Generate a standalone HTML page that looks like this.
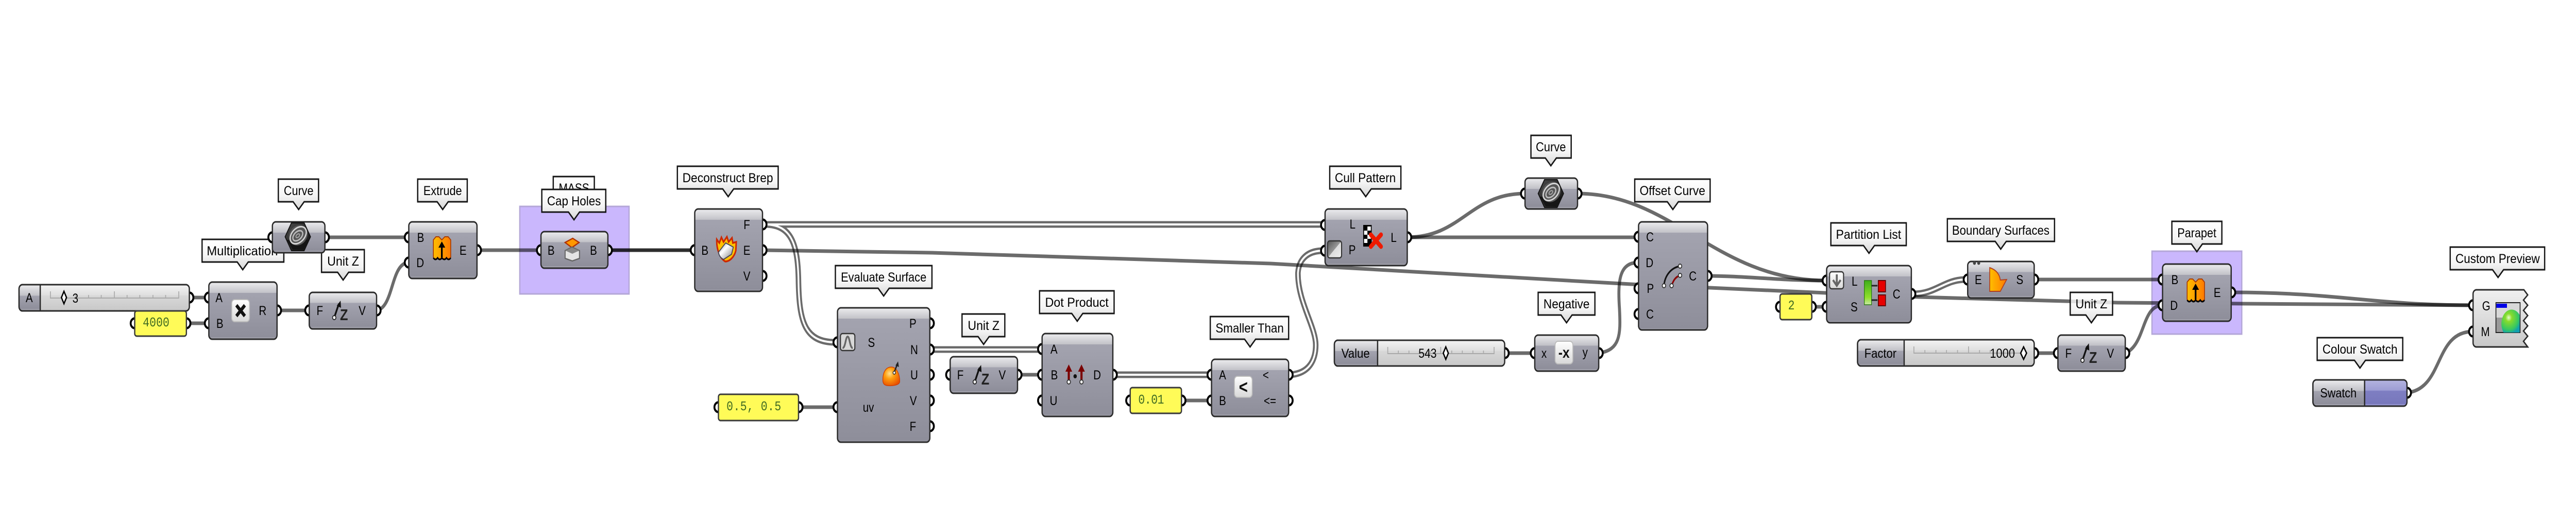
<!DOCTYPE html>
<html><head><meta charset="utf-8">
<style>
html,body{margin:0;padding:0;background:#fff;width:100%;height:100%;overflow:hidden}
svg{display:block;width:100vw;height:100vh}
text{font-family:"Liberation Sans",sans-serif;font-size:25px;fill:#000;text-anchor:middle}
.m{font-family:"Liberation Mono",monospace;fill:#3f6a22;font-size:26px;text-anchor:start}
.w{fill:none;stroke:#000;stroke-opacity:.58;stroke-width:7}
.d1{fill:none;stroke:#6b6b6b;stroke-width:13}
.d2{fill:none;stroke:#fff;stroke-width:4}
.tp{fill:url(#tip);stroke:#151515;stroke-width:3}
.p{fill:#fff;stroke:#000;stroke-width:4.5}
.c{stroke:#2a2a2a;stroke-width:3}
.pn{fill:#fffb58;stroke:#3a3a3a;stroke-width:3}
.tk{fill:none;stroke:#a9a9a9;stroke-width:2}
.dm{fill:#fff;stroke:#000;stroke-width:3}
.btn{fill:url(#btn);stroke:#bbb;stroke-width:2}
.g{fill:#cab7fd;stroke:#b4a7d8;stroke-width:3}
</style></head><body>
<svg xmlns="http://www.w3.org/2000/svg" viewBox="0 0 6081 983" preserveAspectRatio="none">
<defs>
<linearGradient id="tip" x1="0" y1="0" x2="0" y2="1"><stop offset="0" stop-color="#fff"/><stop offset=".55" stop-color="#f4f4f4"/><stop offset="1" stop-color="#d6d6d6"/></linearGradient>
<linearGradient id="btn" x1="0" y1="0" x2="0" y2="1"><stop offset="0" stop-color="#fff"/><stop offset="1" stop-color="#d8d8d8"/></linearGradient>
<linearGradient id="g50" x1="0" y1="0" x2="0" y2="1"><stop offset="0" stop-color="#ececee"/><stop offset=".42" stop-color="#c0c0c6"/><stop offset=".42" stop-color="#a3a3af"/><stop offset=".92" stop-color="#8e8e9a"/><stop offset=".93" stop-color="#a2a2ac"/><stop offset="1" stop-color="#a2a2ac"/></linearGradient>
<linearGradient id="g60" x1="0" y1="0" x2="0" y2="1"><stop offset="0" stop-color="#ececee"/><stop offset=".35" stop-color="#c0c0c6"/><stop offset=".35" stop-color="#a3a3af"/><stop offset=".93" stop-color="#8e8e9a"/><stop offset=".94" stop-color="#a2a2ac"/><stop offset="1" stop-color="#a2a2ac"/></linearGradient>
<linearGradient id="g71" x1="0" y1="0" x2="0" y2="1"><stop offset="0" stop-color="#ececee"/><stop offset=".29" stop-color="#c0c0c6"/><stop offset=".29" stop-color="#a3a3af"/><stop offset=".94" stop-color="#8e8e9a"/><stop offset=".95" stop-color="#a2a2ac"/><stop offset="1" stop-color="#a2a2ac"/></linearGradient>
<linearGradient id="g110" x1="0" y1="0" x2="0" y2="1"><stop offset="0" stop-color="#ececee"/><stop offset=".19" stop-color="#c2c2c8"/><stop offset=".19" stop-color="#a3a3af"/><stop offset=".97" stop-color="#8e8e9a"/><stop offset=".97" stop-color="#a2a2ac"/><stop offset="1" stop-color="#a2a2ac"/></linearGradient>
<linearGradient id="g160" x1="0" y1="0" x2="0" y2="1"><stop offset="0" stop-color="#ececee"/><stop offset=".13" stop-color="#c2c2c8"/><stop offset=".13" stop-color="#a3a3af"/><stop offset=".98" stop-color="#8e8e9a"/><stop offset=".98" stop-color="#a2a2ac"/><stop offset="1" stop-color="#a2a2ac"/></linearGradient>
<linearGradient id="g210" x1="0" y1="0" x2="0" y2="1"><stop offset="0" stop-color="#ececee"/><stop offset=".1" stop-color="#c2c2c8"/><stop offset=".1" stop-color="#a3a3af"/><stop offset=".985" stop-color="#8e8e9a"/><stop offset=".985" stop-color="#a2a2ac"/><stop offset="1" stop-color="#a2a2ac"/></linearGradient>
<linearGradient id="g260" x1="0" y1="0" x2="0" y2="1"><stop offset="0" stop-color="#ececee"/><stop offset=".08" stop-color="#c2c2c8"/><stop offset=".08" stop-color="#a3a3af"/><stop offset=".99" stop-color="#8e8e9a"/><stop offset=".99" stop-color="#a2a2ac"/><stop offset="1" stop-color="#a2a2ac"/></linearGradient>
<linearGradient id="sl" x1="0" y1="0" x2="0" y2="1"><stop offset="0" stop-color="#f4f4f4"/><stop offset=".4" stop-color="#dfdfdf"/><stop offset=".42" stop-color="#d8d8d8"/><stop offset="1" stop-color="#c8c8c8"/></linearGradient>
<linearGradient id="cp" x1="0" y1="0" x2="0" y2="1"><stop offset="0" stop-color="#f0f0f0"/><stop offset="1" stop-color="#c8c8c8"/></linearGradient>
<linearGradient id="sw" x1="0" y1="0" x2="0" y2="1"><stop offset="0" stop-color="#b4b4e0"/><stop offset=".4" stop-color="#9d9dd4"/><stop offset=".42" stop-color="#7e7ec2"/><stop offset=".92" stop-color="#7878bc"/><stop offset=".93" stop-color="#9494d0"/></linearGradient>
<linearGradient id="or" x1="0" y1="0" x2="1" y2="0"><stop offset="0" stop-color="#ffbe00"/><stop offset="1" stop-color="#ff7a00"/></linearGradient>
<linearGradient id="hx" x1="0" y1="0" x2="1" y2="1"><stop offset="0" stop-color="#4a4a4a"/><stop offset="1" stop-color="#111"/></linearGradient>
<linearGradient id="pd" x1="0" y1="0" x2="1" y2="1"><stop offset="0" stop-color="#555"/><stop offset=".5" stop-color="#999"/><stop offset=".5" stop-color="#ddd"/><stop offset="1" stop-color="#eee"/></linearGradient>
<linearGradient id="gr" x1="0" y1="0" x2="0" y2="1"><stop offset="0" stop-color="#3fae1a"/><stop offset=".7" stop-color="#8fe02a"/><stop offset="1" stop-color="#c9e8a8"/></linearGradient>
<radialGradient id="sph" cx=".4" cy=".35" r=".7"><stop offset="0" stop-color="#e8ffd0"/><stop offset=".25" stop-color="#88dc2c"/><stop offset=".75" stop-color="#38c860"/><stop offset="1" stop-color="#10a0b0"/></radialGradient>
<radialGradient id="blob" cx=".4" cy=".35" r=".7"><stop offset="0" stop-color="#ffe090"/><stop offset=".4" stop-color="#ffa010"/><stop offset="1" stop-color="#e85000"/></radialGradient>
<linearGradient id="sil" x1="0" y1="0" x2="1" y2="1"><stop offset="0" stop-color="#888"/><stop offset=".4" stop-color="#fff"/><stop offset="1" stop-color="#777"/></linearGradient>

<g id="curveic">
<polygon points="-30,0 -15,-27 15,-27 30,0 15,27 -15,27" fill="url(#hx)" stroke="#111" stroke-width="2"/>
<path d="M-26,6 L-12,25 H13 L27,6" fill="#151515"/>
<ellipse cx="1" cy="-3" rx="23" ry="19" transform="rotate(-25 1 -3)" fill="#555"/>
<ellipse cx="1" cy="-3" rx="21" ry="14" transform="rotate(-35 1 -3)" fill="none" stroke="#d4d4d4" stroke-width="3"/>
<ellipse cx="0" cy="-2" rx="13" ry="8" transform="rotate(-35 0 -2)" fill="none" stroke="#bbb" stroke-width="3"/>
<ellipse cx="0" cy="-2" rx="5" ry="3" transform="rotate(-35 0 -2)" fill="none" stroke="#aaa" stroke-width="2"/>
</g>
<g id="extr">
<path d="M0,6 L6,0 L13,0 L20,6 L27,0 L35,0 L41,6 V40 Q36,46 31,40 Q26,46 20,40 Q15,46 10,40 Q5,46 0,40Z" fill="url(#or)" stroke="#a83a00" stroke-width="2"/>
<path d="M0,41 Q5,47 10,41 Q15,47 20,41 Q26,47 31,41 Q36,47 41,41" fill="none" stroke="#000" stroke-width="3"/>
<path d="M20,40 V18" stroke="#000" stroke-width="4"/>
<path d="M20,9 L28,21 H12Z" fill="#000"/>
</g>
<g id="arrowz">
<path d="M0,0 L11,-27" stroke="#111" stroke-width="4"/>
<path d="M15,-33 L16,-19 L6,-23Z" fill="#111"/>
<circle cx="0" cy="0" r="4" fill="#fff" stroke="#222" stroke-width="2"/>
</g>
</defs>

<rect width="6081" height="983" fill="#fff"/>

<!-- groups -->
<rect class="g" x="1227" y="401" width="258" height="170"/>
<rect class="g" x="5080" y="488" width="212" height="161"/>

<!-- double wires -->
<g>
<path class="d1" d="M1806,436H3122"/>
<path class="d1" d="M1806,436C1872,436 1884,480 1885,550C1887,625 1900,665 1972,665"/>
<path class="d1" d="M2200,679H2455"/>
<path class="d1" d="M2632,728H2855"/>
<path class="d1" d="M3047,728C3090,725 3106,700 3106,670C3106,635 3063,585 3064,530C3066,505 3085,487 3123,487"/>
<path class="d1" d="M4517,571C4570,571 4590,543 4640,543"/>
<path class="d2" d="M1806,436H3122"/>
<path class="d2" d="M1806,436C1872,436 1884,480 1885,550C1887,625 1900,665 1972,665"/>
<path class="d2" d="M2200,679H2455"/>
<path class="d2" d="M2632,728H2855"/>
<path class="d2" d="M3047,728C3090,725 3106,700 3106,670C3106,635 3063,585 3064,530C3066,505 3085,487 3123,487"/>
<path class="d2" d="M4517,571C4570,571 4590,543 4640,543"/>
</g>

<!-- single wires -->
<g>
<path class="w" d="M767,461H965"/>
<path class="w" d="M447,578H493"/>
<path class="w" d="M440,628H493"/>
<path class="w" d="M654,603H730"/>
<path class="w" d="M889,603C930,598 922,510 965,510"/>
<path class="w" d="M1126,486H1277"/>
<path class="w" d="M1435,486H1640"/>
<path class="w" d="M1435,486H1640"/>
<path class="w" stroke-linejoin="round" d="M1800,486L2200,491L3000,512L3870,553L4530,577L5000,588L5300,590L5838,593"/>
<path class="w" d="M1885,791H1977"/>
<path class="w" d="M2402,728H2460"/>
<path class="w" d="M2789,778H2860"/>
<path class="w" d="M3322,461C3450,461 3470,376 3600,376"/>
<path class="w" d="M3322,461H3868"/>
<path class="w" d="M3724,376C3950,376 4050,545 4312,545"/>
<path class="w" d="M4031,536C4120,536 4200,545 4312,545"/>
<path class="w" d="M3552,686H3623"/>
<path class="w" d="M3774,686C3825,680 3826,650 3823,600C3818,540 3825,510 3868,510"/>
<path class="w" d="M4277,596H4312"/>
<path class="w" d="M4802,543H5105"/>
<path class="w" d="M4802,686H4858"/>
<path class="w" d="M5017,686C5065,670 5055,593 5105,593"/>
<path class="w" d="M5267,568C5520,568 5600,593 5838,593"/>
<path class="w" d="M5682,763C5770,755 5745,644 5838,644"/>
</g>

<!-- tooltips -->
<g>
<path class="tp" d="M657 348H752V392H718L705 407L692 392H657Z"/><text x="705" y="379" textLength="70" lengthAdjust="spacingAndGlyphs">Curve</text>
<path class="tp" d="M986 348H1103V392H1058L1045 407L1032 392H986Z"/><text x="1045" y="379" textLength="91" lengthAdjust="spacingAndGlyphs">Extrude</text>
<path class="tp" d="M477 465H670V509H586L573 524L560 509H477Z"/><text x="572" y="496" textLength="168" lengthAdjust="spacingAndGlyphs">Multiplication</text>
<path class="tp" d="M759 485H860V529H823L810 544L797 529H759Z"/><text x="810" y="516" textLength="75" lengthAdjust="spacingAndGlyphs">Unit Z</text>
<path class="tp" d="M1306 343H1403V387H1368L1355 402L1342 387H1306Z"/><text x="1355" y="374" textLength="72" lengthAdjust="spacingAndGlyphs">MASS</text>
<path class="tp" d="M1279 368H1430V412H1368L1355 427L1342 412H1279Z"/><text x="1355" y="399" textLength="127" lengthAdjust="spacingAndGlyphs">Cap Holes</text>
<path class="tp" d="M1599 323H1837V367H1732L1719 382L1706 367H1599Z"/><text x="1718" y="354" textLength="214" lengthAdjust="spacingAndGlyphs">Deconstruct Brep</text>
<path class="tp" d="M1972 516H2200V560H2099L2086 575L2073 560H1972Z"/><text x="2086" y="547" textLength="202" lengthAdjust="spacingAndGlyphs">Evaluate Surface</text>
<path class="tp" d="M2271 610H2372V654H2335L2322 669L2309 654H2271Z"/><text x="2322" y="641" textLength="75" lengthAdjust="spacingAndGlyphs">Unit Z</text>
<path class="tp" d="M2454 565H2630V609H2556L2543 624L2530 609H2454Z"/><text x="2542" y="596" textLength="150" lengthAdjust="spacingAndGlyphs">Dot Product</text>
<path class="tp" d="M2857 615H3042V659H2964L2951 674L2938 659H2857Z"/><text x="2950" y="646" textLength="161" lengthAdjust="spacingAndGlyphs">Smaller Than</text>
<path class="tp" d="M3139 323H3307V367H3237L3224 382L3211 367H3139Z"/><text x="3223" y="354" textLength="144" lengthAdjust="spacingAndGlyphs">Cull Pattern</text>
<path class="tp" d="M3614 263H3709V307H3674L3661 322L3648 307H3614Z"/><text x="3661" y="294" textLength="71" lengthAdjust="spacingAndGlyphs">Curve</text>
<path class="tp" d="M3859 348H4037V392H3962L3949 407L3936 392H3859Z"/><text x="3948" y="379" textLength="155" lengthAdjust="spacingAndGlyphs">Offset Curve</text>
<path class="tp" d="M3631 568H3765V612H3711L3698 627L3685 612H3631Z"/><text x="3698" y="599" textLength="109" lengthAdjust="spacingAndGlyphs">Negative</text>
<path class="tp" d="M4322 433H4500V477H4425L4412 492L4399 477H4322Z"/><text x="4411" y="464" textLength="154" lengthAdjust="spacingAndGlyphs">Partition List</text>
<path class="tp" d="M4597 425H4850V469H4736L4723 484L4710 469H4597Z"/><text x="4723" y="456" textLength="230" lengthAdjust="spacingAndGlyphs">Boundary Surfaces</text>
<path class="tp" d="M4887 568H4987V612H4950L4937 627L4924 612H4887Z" style="fill-opacity:.82"/><text x="4937" y="599" textLength="75" lengthAdjust="spacingAndGlyphs">Unit Z</text>
<path class="tp" d="M5127 430H5245V474H5199L5186 489L5173 474H5127Z"/><text x="5186" y="461" textLength="92" lengthAdjust="spacingAndGlyphs">Parapet</text>
<path class="tp" d="M5784 480H6007V524H5910L5897 539L5884 524H5784Z"/><text x="5896" y="511" textLength="199" lengthAdjust="spacingAndGlyphs">Custom Preview</text>
<path class="tp" d="M5470 656H5672V700H5584L5571 715L5558 700H5470Z"/><text x="5571" y="687" textLength="177" lengthAdjust="spacingAndGlyphs">Colour Swatch</text>
</g>

<!-- ports -->
<g>
<circle class="p" cx="643" cy="461" r="9.5"/><circle class="p" cx="767" cy="461" r="9.5"/>
<circle class="p" cx="965" cy="461" r="9.5"/><circle class="p" cx="965" cy="510" r="9.5"/><circle class="p" cx="1126" cy="486" r="9.5"/>
<circle class="p" cx="447" cy="578" r="9.5"/><circle class="p" cx="318" cy="628" r="9.5"/><circle class="p" cx="440" cy="628" r="9.5"/>
<circle class="p" cx="493" cy="578" r="9.5"/><circle class="p" cx="493" cy="628" r="9.5"/><circle class="p" cx="654" cy="603" r="9.5"/>
<circle class="p" cx="730" cy="603" r="9.5"/><circle class="p" cx="889" cy="603" r="9.5"/>
<circle class="p" cx="1277" cy="486" r="9.5"/><circle class="p" cx="1435" cy="486" r="9.5"/>
<circle class="p" cx="1640" cy="486" r="9.5"/><circle class="p" cx="1800" cy="436" r="9.5"/><circle class="p" cx="1800" cy="486" r="9.5"/><circle class="p" cx="1800" cy="536" r="9.5"/>
<circle class="p" cx="1977" cy="665" r="9.5"/><circle class="p" cx="1977" cy="791" r="9.5"/>
<circle class="p" cx="2195" cy="628" r="9.5"/><circle class="p" cx="2195" cy="679" r="9.5"/><circle class="p" cx="2195" cy="728" r="9.5"/><circle class="p" cx="2195" cy="778" r="9.5"/><circle class="p" cx="2195" cy="828" r="9.5"/>
<circle class="p" cx="1696" cy="791" r="9.5"/><circle class="p" cx="1885" cy="791" r="9.5"/>
<circle class="p" cx="2243" cy="728" r="9.5"/><circle class="p" cx="2402" cy="728" r="9.5"/>
<circle class="p" cx="2460" cy="678" r="9.5"/><circle class="p" cx="2460" cy="728" r="9.5"/><circle class="p" cx="2460" cy="778" r="9.5"/><circle class="p" cx="2627" cy="728" r="9.5"/>
<circle class="p" cx="2668" cy="778" r="9.5"/><circle class="p" cx="2789" cy="778" r="9.5"/>
<circle class="p" cx="2860" cy="728" r="9.5"/><circle class="p" cx="2860" cy="778" r="9.5"/><circle class="p" cx="3042" cy="728" r="9.5"/><circle class="p" cx="3042" cy="778" r="9.5"/>
<circle class="p" cx="3128" cy="437" r="9.5"/><circle class="p" cx="3128" cy="487" r="9.5"/><circle class="p" cx="3322" cy="461" r="9.5"/>
<circle class="p" cx="3600" cy="376" r="9.5"/><circle class="p" cx="3724" cy="376" r="9.5"/>
<circle class="p" cx="3868" cy="460" r="9.5"/><circle class="p" cx="3868" cy="510" r="9.5"/><circle class="p" cx="3868" cy="560" r="9.5"/><circle class="p" cx="3868" cy="610" r="9.5"/><circle class="p" cx="4031" cy="536" r="9.5"/>
<circle class="p" cx="3552" cy="686" r="9.5"/><circle class="p" cx="3623" cy="686" r="9.5"/><circle class="p" cx="3774" cy="686" r="9.5"/>
<circle class="p" cx="4312" cy="545" r="9.5"/><circle class="p" cx="4312" cy="596" r="9.5"/><circle class="p" cx="4512" cy="571" r="9.5"/>
<circle class="p" cx="4202" cy="596" r="9.5"/><circle class="p" cx="4277" cy="596" r="9.5"/>
<circle class="p" cx="4645" cy="543" r="9.5"/><circle class="p" cx="4802" cy="543" r="9.5"/>
<circle class="p" cx="4802" cy="686" r="9.5"/><circle class="p" cx="4858" cy="686" r="9.5"/><circle class="p" cx="5017" cy="686" r="9.5"/>
<circle class="p" cx="5105" cy="543" r="9.5"/><circle class="p" cx="5105" cy="593" r="9.5"/><circle class="p" cx="5267" cy="568" r="9.5"/>
<circle class="p" cx="5838" cy="593" r="9.5"/><circle class="p" cx="5838" cy="644" r="9.5"/><circle class="p" cx="5682" cy="763" r="9.5"/>
</g>

<!-- Curve 1 -->
<rect class="c" x="643" y="431" width="124" height="60" rx="8" fill="url(#g60)"/><use href="#curveic" x="703" y="460"/>
<!-- Extrude -->
<rect class="c" x="965" y="431" width="161" height="110" rx="8" fill="url(#g110)"/>
<use href="#extr" x="1023" y="460"/>
<text x="993" y="470">B</text><text x="992" y="519">D</text><text x="1093" y="495">E</text>
<!-- Slider A -->
<rect class="c" x="45" y="553" width="402" height="51" rx="8" fill="url(#sl)"/>
<path class="c" d="M95,553H53a8,8 0 0 0 -8,8V596a8,8 0 0 0 8,8H95Z" fill="url(#g50)"/>
<text x="69" y="587">A</text>
<path class="tk" d="M119 566V579H422V566M149 573V579M179 573V579M209 573V579M239 573V579M270 566V579M300 573V579M330 573V579M361 573V579M391 573V579"/>
<polygon class="dm" points="151,566 157,578 151,590 145,578"/>
<text x="178" y="588">3</text>
<!-- Panel 4000 -->
<rect class="pn" x="318" y="604" width="122" height="49" rx="5"/><text class="m" x="337" y="634" textLength="63">4000</text>
<!-- Multiplication -->
<rect class="c" x="493" y="548" width="161" height="111" rx="8" fill="url(#g110)"/>
<text x="517" y="587">A</text><text x="519" y="637">B</text><text x="620" y="612">R</text>
<rect class="btn" x="547" y="582" width="42" height="43" rx="7"/>
<path d="M558,593 L578,614 M578,593 L558,614" stroke="#111" stroke-width="7"/>
<!-- Unit Z 1 -->
<rect class="c" x="730" y="568" width="159" height="71" rx="8" fill="url(#g71)"/>
<text x="755" y="612">F</text><text x="855" y="612">V</text>
<use href="#arrowz" x="789" y="617"/><text x="812" y="622" style="font-size:31px;font-weight:bold;fill:#222">Z</text>
<!-- Cap Holes -->
<rect class="c" x="1277" y="450" width="158" height="71" rx="8" fill="url(#g71)"/>
<text x="1301" y="495">B</text><text x="1401" y="495">B</text>
<path d="M1334,471 L1352,463 L1367,471 L1350,481Z" fill="#ff9800" stroke="#b03000" stroke-width="2.5"/>
<path d="M1334,487 L1350,480 L1368,487 V502 L1351,507 L1334,502Z" fill="#e4e4e4" stroke="#666" stroke-width="2.5"/>
<path d="M1335,487 L1351,493 L1367,487 L1350,481Z" fill="#888"/>
<!-- Deconstruct Brep -->
<rect class="c" x="1640" y="406" width="160" height="160" rx="8" fill="url(#g160)"/>
<text x="1664" y="495">B</text><text x="1763" y="445">F</text><text x="1763" y="495">E</text><text x="1763" y="545">V</text>
<path d="M1692,465 L1698,472 L1703,461 L1708,470 L1716,460 L1720,470 L1728,462 L1730,472 L1738,470 L1737,487 C1733,500 1722,508 1712,508 C1700,502 1691,485 1692,465Z" fill="#ffc000" stroke="#cc2800" stroke-width="3.5"/>
<path d="M1696,490 L1713,472 L1731,480 L1727,494 L1708,504 Q1698,500 1696,490Z" fill="url(#sil)" stroke="#445" stroke-width="2"/>
<!-- Evaluate Surface -->
<rect class="c" x="1977" y="598" width="218" height="261" rx="8" fill="url(#g260)"/>
<rect x="1984" y="648" width="34" height="33" rx="5" fill="#d8d8d8" stroke="#333" stroke-width="2.5"/>
<path d="M1989,676 C1996,676 1996,654 2001,654 C2006,654 2006,676 2013,676" fill="none" stroke="#666" stroke-width="4"/>
<text x="2057" y="674">S</text><text x="2050" y="800">uv</text>
<text x="2155" y="637">P</text><text x="2158" y="688">N</text><text x="2158" y="737">U</text><text x="2156" y="787">V</text><text x="2155" y="837">F</text>
<path d="M2084,738 C2084,722 2092,713 2104,713 C2116,713 2124,726 2124,741 C2124,749 2104,750 2094,749 C2087,748 2084,745 2084,738Z" fill="url(#blob)" stroke="#d04000" stroke-width="1.5"/>
<path d="M2111,723 L2118,708" stroke="#222" stroke-width="3"/><path d="M2120,702 L2122,713 L2114,710Z" fill="#222"/>
<circle cx="2111" cy="724" r="3" fill="#fff" stroke="#222" stroke-width="1.5"/>
<!-- Panel 0.5 -->
<rect class="pn" x="1696" y="766" width="189" height="51" rx="5"/><text class="m" x="1715" y="797" textLength="129">0.5, 0.5</text>
<!-- Unit Z 2 -->
<rect class="c" x="2243" y="693" width="159" height="71" rx="8" fill="url(#g71)"/>
<text x="2267" y="737">F</text><text x="2366" y="737">V</text>
<use href="#arrowz" x="2301" y="742"/><text x="2326" y="747" style="font-size:31px;font-weight:bold;fill:#222">Z</text>
<!-- Dot Product -->
<rect class="c" x="2460" y="648" width="167" height="161" rx="8" fill="url(#g160)"/>
<text x="2488" y="687">A</text><text x="2489" y="737">B</text><text x="2487" y="787">U</text><text x="2590" y="737">D</text>
<path d="M2523,742 V716" stroke="#7a0000" stroke-width="5"/><path d="M2523,708 L2531,722 H2515Z" fill="#7a0000"/><circle cx="2523" cy="742" r="4" fill="#fff" stroke="#333" stroke-width="2"/>
<path d="M2553,742 V716" stroke="#7a0000" stroke-width="5"/><path d="M2553,708 L2561,722 H2545Z" fill="#7a0000"/><circle cx="2553" cy="742" r="4" fill="#fff" stroke="#333" stroke-width="2"/>
<circle cx="2538" cy="731" r="4" fill="#111"/>
<!-- Panel 0.01 -->
<rect class="pn" x="2668" y="753" width="121" height="50" rx="5"/><text class="m" x="2687" y="784" textLength="61">0.01</text>
<!-- Smaller -->
<rect class="c" x="2860" y="698" width="182" height="111" rx="8" fill="url(#g110)"/>
<text x="2886" y="737">A</text><text x="2886" y="787">B</text><text x="2988" y="737">&lt;</text><text x="2998" y="787">&lt;=</text>
<rect class="btn" x="2914" y="731" width="42" height="41" rx="7"/>
<text x="2935" y="764" style="font-size:36px;font-weight:bold;fill:#111">&lt;</text>
<!-- Cull Pattern -->
<rect class="c" x="3128" y="406" width="194" height="110" rx="8" fill="url(#g110)"/>
<rect x="3134" y="468" width="33" height="33" rx="5" fill="url(#pd)" stroke="#333" stroke-width="2.5"/>
<text x="3193" y="444">L</text><text x="3192" y="494">P</text><text x="3290" y="470">L</text>
<rect x="3218" y="437" width="20" height="42" fill="#000"/>
<path d="M3228,440h8v8h-8zM3220,448h8v8h-8zM3228,456h8v8h-8zM3220,464h8v8h-8z" fill="#fff"/>
<path d="M3236,456 L3260,479 M3260,456 L3236,479" stroke="#ee1a00" stroke-width="9" stroke-linecap="round"/>
<!-- Curve 2 -->
<rect class="c" x="3600" y="346" width="124" height="60" rx="8" fill="url(#g60)"/><use href="#curveic" x="3661" y="376"/>
<!-- Offset Curve -->
<rect class="c" x="3868" y="431" width="163" height="210" rx="8" fill="url(#g210)"/>
<text x="3895" y="469">C</text><text x="3894" y="519">D</text><text x="3896" y="569">P</text><text x="3895" y="619">C</text><text x="3996" y="545">C</text>
<path d="M3928,555 C3930,535 3945,520 3966,517" fill="none" stroke="#111" stroke-width="3.5"/>
<path d="M3946,555 C3950,545 3955,538 3966,535" fill="none" stroke="#8a0000" stroke-width="3.5"/>
<circle cx="3928" cy="555" r="4" fill="#fff" stroke="#333" stroke-width="2"/><circle cx="3966" cy="517" r="4" fill="#fff" stroke="#333" stroke-width="2"/><circle cx="3946" cy="555" r="4" fill="#fff" stroke="#333" stroke-width="2"/><circle cx="3966" cy="535" r="4" fill="#fff" stroke="#333" stroke-width="2"/>
<!-- Value slider -->
<rect class="c" x="3150" y="661" width="402" height="50" rx="8" fill="url(#sl)"/>
<path class="c" d="M3252,661H3158a8,8 0 0 0 -8,8V703a8,8 0 0 0 8,8H3252Z" fill="url(#g50)"/>
<text x="3200" y="695" textLength="67" lengthAdjust="spacingAndGlyphs">Value</text>
<path class="tk" d="M3276 674V687H3527V674M3301 681V687M3326 681V687M3351 681V687M3376 681V687M3401 674V687M3427 681V687M3452 681V687M3477 681V687M3502 681V687"/>
<text x="3370" y="695" textLength="43" lengthAdjust="spacingAndGlyphs">543</text>
<polygon class="dm" points="3413,674 3419,686 3413,698 3407,686"/>
<!-- Negative -->
<rect class="c" x="3623" y="651" width="151" height="70" rx="8" fill="url(#g71)"/>
<text x="3645" y="695">x</text><text x="3742" y="693">y</text>
<rect class="btn" x="3671" y="663" width="42" height="44" rx="7"/>
<text x="3692" y="695" style="font-size:30px;font-weight:bold;fill:#111">-x</text>
<!-- Partition List -->
<rect class="c" x="4312" y="516" width="200" height="111" rx="8" fill="url(#g110)"/>
<rect x="4319" y="528" width="33" height="33" rx="5" fill="url(#btn)" stroke="#333" stroke-width="2.5"/>
<path d="M4336,533 V553 M4327,544 L4336,555 L4345,544" fill="none" stroke="#666" stroke-width="4.5"/>
<text x="4378" y="555">L</text><text x="4377" y="605">S</text><text x="4477" y="580">C</text>
<rect x="4401" y="545" width="17" height="47" fill="url(#gr)" stroke="#2a7a10" stroke-width="1.5"/>
<path d="M4418,555H4432M4418,583H4432" stroke="#222" stroke-width="3"/>
<rect x="4434" y="545" width="17" height="22" fill="#e60000" stroke="#600" stroke-width="2"/>
<rect x="4434" y="573" width="17" height="21" fill="#e60000" stroke="#600" stroke-width="2"/>
<!-- Panel 2 -->
<rect class="pn" x="4202" y="571" width="75" height="50" rx="5"/><text class="m" x="4221" y="601">2</text>
<!-- Boundary -->
<rect class="c" x="4645" y="508" width="157" height="71" rx="8" fill="url(#g71)"/>
<circle cx="4661" cy="511" r="3.5" fill="#444"/><circle cx="4671" cy="511" r="3.5" fill="#444"/>
<text x="4670" y="552">E</text><text x="4768" y="552">S</text>
<path d="M4697,520 C4712,524 4720,532 4722,544 L4737,543 L4722,566 H4697Z" fill="url(#or)" stroke="#b04020" stroke-width="2"/>
<!-- Factor slider -->
<rect class="c" x="4385" y="660" width="417" height="51" rx="8" fill="url(#sl)"/>
<path class="c" d="M4495,660H4393a8,8 0 0 0 -8,8V703a8,8 0 0 0 8,8H4495Z" fill="url(#g50)"/>
<text x="4439" y="695" textLength="76" lengthAdjust="spacingAndGlyphs">Factor</text>
<path class="tk" d="M4518 673V686H4776V673M4544 680V686M4570 680V686M4595 680V686M4621 680V686M4647 673V686M4673 680V686M4698 680V686M4724 680V686M4750 680V686"/>
<text x="4727" y="695" textLength="59" lengthAdjust="spacingAndGlyphs">1000</text>
<polygon class="dm" points="4777,674 4784,686 4777,698 4770,686"/>
<!-- Unit Z 3 -->
<rect class="c" x="4858" y="651" width="159" height="70" rx="8" fill="url(#g71)"/>
<text x="4883" y="695">F</text><text x="4982" y="695">V</text>
<use href="#arrowz" x="4916" y="700"/><text x="4941" y="705" style="font-size:31px;font-weight:bold;fill:#222">Z</text>
<!-- Parapet -->
<rect class="c" x="5105" y="513" width="162" height="111" rx="8" fill="url(#g110)"/>
<use href="#extr" x="5163" y="542"/>
<text x="5134" y="552">B</text><text x="5132" y="602">D</text><text x="5234" y="577">E</text>
<!-- Custom Preview -->
<path class="c" d="M5846,563H5958L5967,573L5957,583L5967,593L5957,603L5967,613L5957,623L5967,633L5957,643L5967,653L5957,663L5967,674H5846a8,8 0 0 1 -8,-8V571a8,8 0 0 1 8,-8Z" fill="url(#cp)"/>
<text x="5869" y="603">G</text><text x="5867" y="653">M</text>
<rect x="5892" y="588" width="57" height="58" fill="#999" stroke="#222" stroke-width="2"/>
<rect x="5893" y="589" width="55" height="28" fill="#d8d8d8"/>
<rect x="5893" y="590" width="25" height="8" fill="#0000e6"/>
<path d="M5910,646 A21,24 0 0 1 5948,612 V646Z" fill="url(#sph)"/>
<!-- Swatch -->
<rect class="c" x="5460" y="738" width="222" height="51" rx="8" fill="url(#sw)"/>
<path class="c" d="M5582,738H5468a8,8 0 0 0 -8,8V781a8,8 0 0 0 8,8H5582Z" fill="url(#g50)"/>
<text x="5520" y="772" textLength="86" lengthAdjust="spacingAndGlyphs">Swatch</text>
</svg>
</body></html>
